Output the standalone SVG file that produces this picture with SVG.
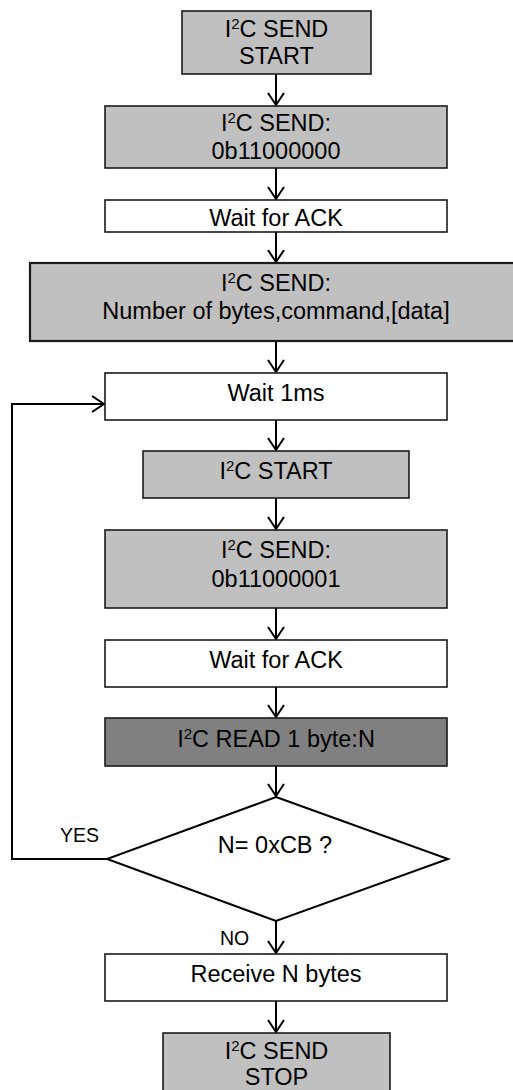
<svg xmlns="http://www.w3.org/2000/svg" width="513" height="1090" viewBox="0 0 513 1090">
<style>
  .box{stroke:#1a1a1a;stroke-width:1.6}
  .g{fill:#c0c0c0}
  .w{fill:#ffffff}
  .d{fill:#808080}
  .t{font-family:"Liberation Sans",Arial,sans-serif;font-size:23.5px;fill:#000;text-anchor:middle}
  .lbl{font-family:"Liberation Sans",Arial,sans-serif;font-size:19.5px;fill:#000}
  .c{fill:none;stroke:#000;stroke-width:2}
</style>
<defs>
  <marker id="arr" viewBox="-14 -10 16 20" markerWidth="16" markerHeight="20" refX="0" refY="0" orient="auto" markerUnits="userSpaceOnUse">
    <path d="M-12,-8 L0,0 L-12,8" fill="none" stroke="#000" stroke-width="2"/>
  </marker>
</defs>
<rect width="513" height="1090" fill="#fff"/>

<g id="connectors">
  <line class="c" x1="276" y1="74" x2="276" y2="105" marker-end="url(#arr)"/>
  <line class="c" x1="276" y1="168" x2="276" y2="199" marker-end="url(#arr)"/>
  <line class="c" x1="276" y1="232" x2="276" y2="262" marker-end="url(#arr)"/>
  <line class="c" x1="276" y1="341" x2="276" y2="372" marker-end="url(#arr)"/>
  <line class="c" x1="276" y1="420" x2="276" y2="450" marker-end="url(#arr)"/>
  <line class="c" x1="276" y1="498" x2="276" y2="529" marker-end="url(#arr)"/>
  <line class="c" x1="276" y1="608" x2="276" y2="639" marker-end="url(#arr)"/>
  <line class="c" x1="276" y1="687" x2="276" y2="717" marker-end="url(#arr)"/>
  <line class="c" x1="276" y1="766" x2="276" y2="796" marker-end="url(#arr)"/>
  <line class="c" x1="276" y1="921" x2="276" y2="953" marker-end="url(#arr)"/>
  <line class="c" x1="276" y1="1001" x2="276" y2="1032" marker-end="url(#arr)"/>
  <polyline class="c" points="107,859 12,859 12,404 104,404" marker-end="url(#arr)"/>
</g>

<g id="n1">
  <rect class="box g" x="182" y="11" width="189" height="63"/>
  <text class="t" x="276.5" y="36.5">I<tspan font-size="15" dy="-8">2</tspan><tspan dy="8">C SEND</tspan></text>
  <text class="t" x="276.5" y="64">START</text>
</g>
<g id="n2">
  <rect class="box g" x="105" y="106" width="342" height="62"/>
  <text class="t" x="276" y="130.5">I<tspan font-size="15" dy="-8">2</tspan><tspan dy="8">C SEND:</tspan></text>
  <text class="t" x="276" y="159">0b11000000</text>
</g>
<g id="n3">
  <rect class="box w" x="105" y="200" width="342" height="32"/>
  <text class="t" x="276" y="226">Wait for ACK</text>
</g>
<g id="n4">
  <rect class="box g" x="30" y="263" width="492" height="78" style="stroke-width:2.2"/>
  <text class="t" x="276" y="291">I<tspan font-size="15" dy="-8">2</tspan><tspan dy="8">C SEND:</tspan></text>
  <text class="t" x="276" y="318.5">Number of bytes,command,[data]</text>
</g>
<g id="n5">
  <rect class="box w" x="105" y="373" width="342" height="47"/>
  <text class="t" x="276" y="401">Wait 1ms</text>
</g>
<g id="n6">
  <rect class="box g" x="143" y="451" width="266" height="47"/>
  <text class="t" x="276" y="479">I<tspan font-size="15" dy="-8">2</tspan><tspan dy="8">C START</tspan></text>
</g>
<g id="n7">
  <rect class="box g" x="105" y="530" width="342" height="78"/>
  <text class="t" x="276" y="558.3">I<tspan font-size="15" dy="-8">2</tspan><tspan dy="8">C SEND:</tspan></text>
  <text class="t" x="276" y="586.7">0b11000001</text>
</g>
<g id="n8">
  <rect class="box w" x="105" y="640" width="342" height="47"/>
  <text class="t" x="276" y="668">Wait for ACK</text>
</g>
<g id="n9">
  <rect class="box d" x="105" y="718" width="342" height="48"/>
  <text class="t" x="276" y="746.5">I<tspan font-size="15" dy="-8">2</tspan><tspan dy="8">C READ 1 byte:N</tspan></text>
</g>
<g id="n10">
  <polygon class="box w" points="276,797 448,859 276,921 107,859" style="stroke:#000;stroke-width:2"/>
  <text class="t" x="275" y="853">N= 0xCB ?</text>
</g>
<g id="labels">
  <text class="lbl" x="60" y="842">YES</text>
  <text class="lbl" x="220" y="945">NO</text>
</g>
<g id="n11">
  <rect class="box w" x="105" y="954" width="342" height="47"/>
  <text class="t" x="276" y="982.3">Receive N bytes</text>
</g>
<g id="n12">
  <rect class="box g" x="163" y="1033" width="227" height="60"/>
  <text class="t" x="276.5" y="1058.5">I<tspan font-size="15" dy="-8">2</tspan><tspan dy="8">C SEND</tspan></text>
  <text class="t" x="276.5" y="1084.5">STOP</text>
</g>
</svg>
